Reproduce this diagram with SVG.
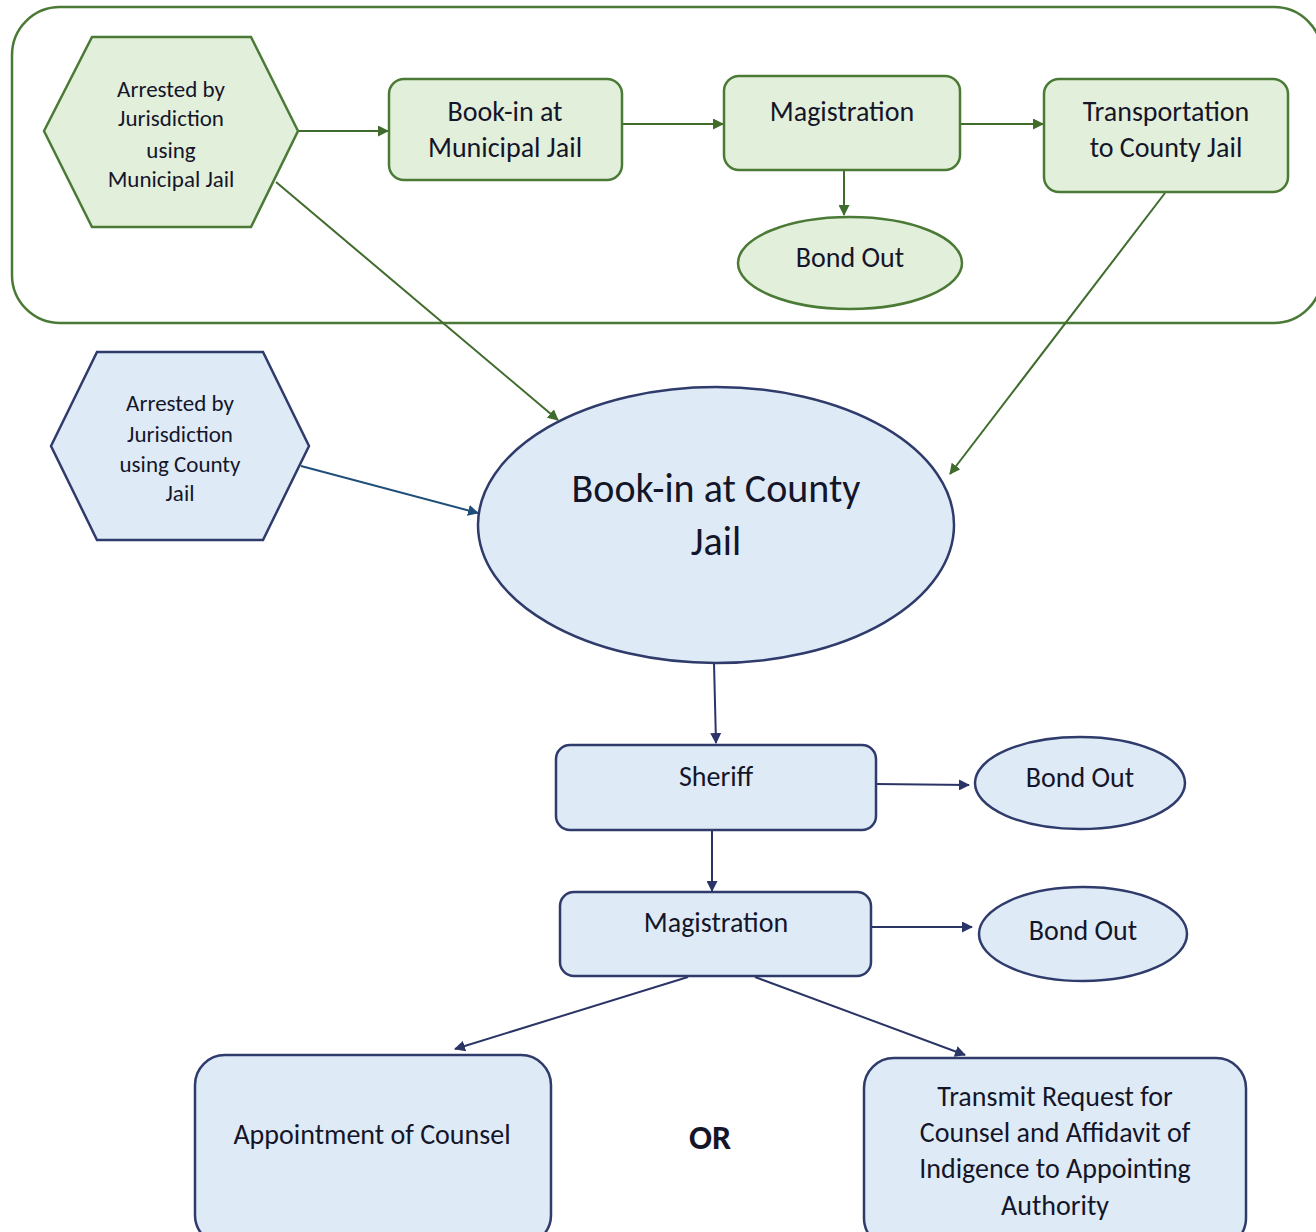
<svg xmlns="http://www.w3.org/2000/svg" width="1316" height="1232" viewBox="0 0 1316 1232">
<style>
.g{fill:#e2efda;stroke:#4a7a35;stroke-width:2.5}
.b{fill:#deebf7;stroke:#2f3b6b;stroke-width:2.5}
.t{font-family:Carlito,Lato,"Open Sans",sans-serif;fill:#15152a;text-anchor:middle}
.cg{stroke:#3f6b2c;stroke-width:2;fill:none;marker-end:url(#ag)}
.cb{stroke:#2a3566;stroke-width:2;fill:none;marker-end:url(#ab)}
.cb2{stroke:#1f4e79;stroke-width:2;fill:none;marker-end:url(#ab2)}
</style>
<defs>
<marker id="ag" markerWidth="11" markerHeight="11" refX="10" refY="5.5" orient="auto" markerUnits="userSpaceOnUse" viewBox="0 0 11 11"><path d="M0,0 L11,5.5 L0,11 z" fill="#3f6b2c"/></marker>
<marker id="ab" markerWidth="11" markerHeight="11" refX="10" refY="5.5" orient="auto" markerUnits="userSpaceOnUse" viewBox="0 0 11 11"><path d="M0,0 L11,5.5 L0,11 z" fill="#2a3566"/></marker>
<marker id="ab2" markerWidth="11" markerHeight="11" refX="10" refY="5.5" orient="auto" markerUnits="userSpaceOnUse" viewBox="0 0 11 11"><path d="M0,0 L11,5.5 L0,11 z" fill="#1f4e79"/></marker>
</defs>
<rect width="1316" height="1232" fill="#ffffff"/>
<g id="container"><rect x="12" y="7" width="1310" height="316" rx="48" fill="none" stroke="#4a7a35" stroke-width="2.5"/></g>
<g id="connectors">
<line class="cg" x1="298" y1="131" x2="388" y2="131"/>
<line class="cg" x1="622" y1="124" x2="723" y2="124"/>
<line class="cg" x1="960" y1="124" x2="1043" y2="124"/>
<line class="cg" x1="844" y1="170" x2="844" y2="215"/>
<line class="cg" x1="276" y1="182" x2="558" y2="420"/>
<line class="cg" x1="1165" y1="193" x2="950" y2="474"/>
<line class="cb2" x1="301" y1="466" x2="478" y2="513"/>
<line class="cb" x1="714" y1="663" x2="716" y2="743"/>
<line class="cb" x1="876" y1="784" x2="969" y2="785"/>
<line class="cb" x1="712" y1="830" x2="712" y2="891"/>
<line class="cb" x1="871" y1="927" x2="972" y2="927"/>
<line class="cb" x1="688" y1="977" x2="455" y2="1049"/>
<line class="cb" x1="755" y1="977" x2="965" y2="1055"/>
</g>
<g id="arrested-municipal">
<polygon class="g" points="44,131 92,37 251,37 298,131 251,227 92,227"/>
<text class="t" font-size="23"><tspan x="171" y="97">Arrested by</tspan><tspan x="171" y="126">Jurisdiction</tspan><tspan x="171" y="158">using</tspan><tspan x="171" y="187">Municipal Jail</tspan></text>
</g>
<g id="bookin-municipal">
<rect class="g" x="389" y="79" width="233" height="101" rx="15"/>
<text class="t" font-size="28"><tspan x="505" y="121">Book-in at</tspan><tspan x="505" y="157">Municipal Jail</tspan></text>
</g>
<g id="magistration-top">
<rect class="g" x="724" y="76" width="236" height="94" rx="15"/>
<text class="t" font-size="28" x="842" y="121">Magistration</text>
</g>
<g id="transportation">
<rect class="g" x="1044" y="79" width="244" height="113" rx="15"/>
<text class="t" font-size="28"><tspan x="1166" y="121">Transportation</tspan><tspan x="1166" y="157">to County Jail</tspan></text>
</g>
<g id="bondout-top">
<ellipse class="g" cx="850" cy="263" rx="112" ry="46"/>
<text class="t" font-size="28" x="850" y="267">Bond Out</text>
</g>
<g id="arrested-county">
<polygon class="b" points="51,446 97,352 263,352 309,446 263,540 97,540"/>
<text class="t" font-size="23"><tspan x="180" y="411">Arrested by</tspan><tspan x="180" y="442">Jurisdiction</tspan><tspan x="180" y="472">using County</tspan><tspan x="180" y="501">Jail</tspan></text>
</g>
<g id="bookin-county">
<ellipse class="b" cx="716" cy="525" rx="238" ry="138"/>
<text class="t" font-size="40"><tspan x="716" y="502">Book-in at County</tspan><tspan x="716" y="555">Jail</tspan></text>
</g>
<g id="sheriff">
<rect class="b" x="556" y="745" width="320" height="85" rx="14"/>
<text class="t" font-size="28" x="716" y="786">Sheriff</text>
</g>
<g id="bondout-sheriff">
<ellipse class="b" cx="1080" cy="783" rx="105" ry="46"/>
<text class="t" font-size="28" x="1080" y="787">Bond Out</text>
</g>
<g id="magistration">
<rect class="b" x="560" y="892" width="311" height="84" rx="14"/>
<text class="t" font-size="28" x="716" y="932">Magistration</text>
</g>
<g id="bondout-magistration">
<ellipse class="b" cx="1083" cy="934" rx="104" ry="47"/>
<text class="t" font-size="28" x="1083" y="940">Bond Out</text>
</g>
<g id="appointment">
<rect class="b" x="195" y="1055" width="356" height="190" rx="30"/>
<text class="t" font-size="28" x="372" y="1144">Appointment of Counsel</text>
</g>
<g id="or-label"><text class="t" font-size="34" font-weight="bold" x="710" y="1149">OR</text></g>
<g id="transmit">
<rect class="b" x="864" y="1058" width="382" height="190" rx="30"/>
<text class="t" font-size="28"><tspan x="1055" y="1106">Transmit Request for</tspan><tspan x="1055" y="1142">Counsel and Affidavit of</tspan><tspan x="1055" y="1178">Indigence to Appointing</tspan><tspan x="1055" y="1215">Authority</tspan></text>
</g>
</svg>
